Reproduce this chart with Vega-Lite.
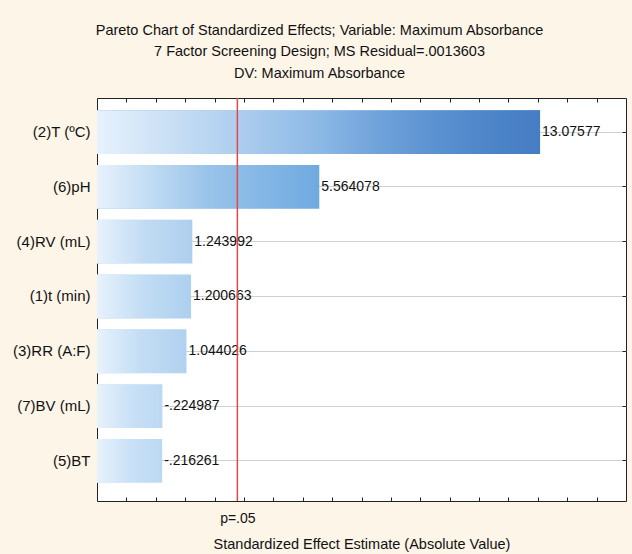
{
  "$schema": "https://vega.github.io/schema/vega-lite/v6.json",
  "width": 529,
  "height": 403,
  "autosize": "none",
  "padding": {"left": 97, "top": 98, "right": 6, "bottom": 53},
  "background": "#FDF5E8",
  "title": {
    "text": ["Pareto Chart of Standardized Effects; Variable: Maximum Absorbance", "7 Factor Screening Design; MS Residual=.0013603", "DV: Maximum Absorbance"],
    "anchor": "middle",
    "frame": "bounds",
    "font": "Liberation Sans",
    "fontSize": 14.5,
    "fontWeight": "normal",
    "color": "#111111",
    "lineHeight": 21.5,
    "offset": 16
  },
  "config": {
    "font": "Liberation Sans",
    "view": {"stroke": "#222222", "strokeWidth": 1, "fill": "white"},
    "axis": {"labelFont": "Liberation Sans", "titleFont": "Liberation Sans", "tickColor": "#222222", "labelColor": "#111111", "titleColor": "#111111"}
  },
  "data": {
    "values": [
      {"factor": "(2)T (ºC)", "abs_effect": 13.07577, "label": "13.07577"},
      {"factor": "(6)pH", "abs_effect": 5.564078, "label": "5.564078"},
      {"factor": "(4)RV (mL)", "abs_effect": 1.243992, "label": "1.243992"},
      {"factor": "(1)t (min)", "abs_effect": 1.200663, "label": "1.200663"},
      {"factor": "(3)RR (A:F)", "abs_effect": 1.044026, "label": "1.044026"},
      {"factor": "(7)BV (mL)", "abs_effect": 0.224987, "label": "-.224987"},
      {"factor": "(5)BT", "abs_effect": 0.216261, "label": "-.216261"}
    ]
  },
  "resolve": {"axis": {"x": "independent", "y": "independent"}},
  "layer": [
    {
      "mark": {"type": "bar"},
      "encoding": {
        "y": {
          "field": "factor", "type": "nominal", "sort": null,
          "scale": {"paddingInner": 0.2, "paddingOuter": 0.277, "align": 0.4},
          "axis": {"orient": "left", "title": null, "domain": false, "tickSize": -4, "labelFontSize": 15, "labelPadding": 11, "grid": true, "gridColor": "#D0D0D0", "bandPosition": 0.5}
        },
        "x": {
          "field": "abs_effect", "type": "quantitative",
          "scale": {"domain": [-2, 16], "nice": false, "zero": false},
          "axis": {"orient": "bottom", "values": [-1, 0, 1, 2, 2.776, 3, 4, 5, 6, 7, 8, 9, 10, 11, 12, 13, 14, 15], "labelExpr": "datum.value == 2.776 ? 'p=.05' : ''", "labelOverlap": false, "labelFlush": false, "domain": false, "grid": false, "tickSize": -4, "labelFontSize": 14, "labelPadding": 14, "title": "Standardized Effect Estimate (Absolute Value)", "titleFontSize": 14.5, "titleFontWeight": "normal", "titlePadding": 12}
        },
        "x2": {"datum": -2},
        "color": {
          "field": "abs_effect", "type": "quantitative",
          "scale": {"domain": [0.22, 5.56, 13.08], "range": ["#BBD8F3", "#6FAAE0", "#5C9ADA"]},
          "legend": null
        }
      }
    },
    {
      "mark": {
        "type": "bar",
        "fill": {"gradient": "linear", "x1": 0, "y1": 0, "x2": 1, "y2": 0, "stops": [{"offset": 0, "color": "rgba(231,242,252,1)"}, {"offset": 0.5, "color": "rgba(231,242,252,0.35)"}, {"offset": 1, "color": "rgba(231,242,252,0)"}]}
      },
      "encoding": {
        "y": {"field": "factor", "type": "nominal", "sort": null, "axis": {"orient": "right", "title": null, "labels": false, "domain": false, "grid": false, "tickSize": -4, "bandPosition": 0.5}},
        "x": {"field": "abs_effect", "type": "quantitative", "axis": {"orient": "top", "title": null, "labels": false, "domain": false, "grid": false, "tickSize": -4, "values": [-1, 0, 1, 2, 3, 4, 5, 6, 7, 8, 9, 10, 11, 12, 13, 14, 15]}},
        "x2": {"datum": -2}
      }
    },
    {
      "mark": {
        "type": "bar",
        "fill": {"gradient": "linear", "x1": 0, "y1": 0, "x2": 1, "y2": 0, "stops": [{"offset": 0, "color": "rgba(70,125,195,0)"}, {"offset": 0.5, "color": "rgba(70,125,195,0)"}, {"offset": 1, "color": "rgba(70,125,195,1)"}]}
      },
      "encoding": {
        "y": {"field": "factor", "type": "nominal", "sort": null, "axis": null},
        "x": {"field": "abs_effect", "type": "quantitative", "axis": null},
        "x2": {"datum": -2},
        "opacity": {"field": "abs_effect", "type": "quantitative", "scale": {"domain": [5.56, 13.08], "range": [0, 1], "clamp": true}, "legend": null}
      }
    },
    {
      "mark": {"type": "text", "align": "left", "baseline": "middle", "dx": 2, "fontSize": 14, "color": "#111111"},
      "encoding": {
        "y": {"field": "factor", "type": "nominal", "sort": null, "axis": null},
        "x": {"field": "abs_effect", "type": "quantitative", "axis": null},
        "text": {"field": "label"}
      }
    },
    {
      "data": {"values": [{"critical_t": 2.776}]},
      "mark": {"type": "rule", "color": "#E24B45", "strokeWidth": 1.5},
      "encoding": {
        "x": {"field": "critical_t", "type": "quantitative", "axis": null}
      }
    }
  ]
}
